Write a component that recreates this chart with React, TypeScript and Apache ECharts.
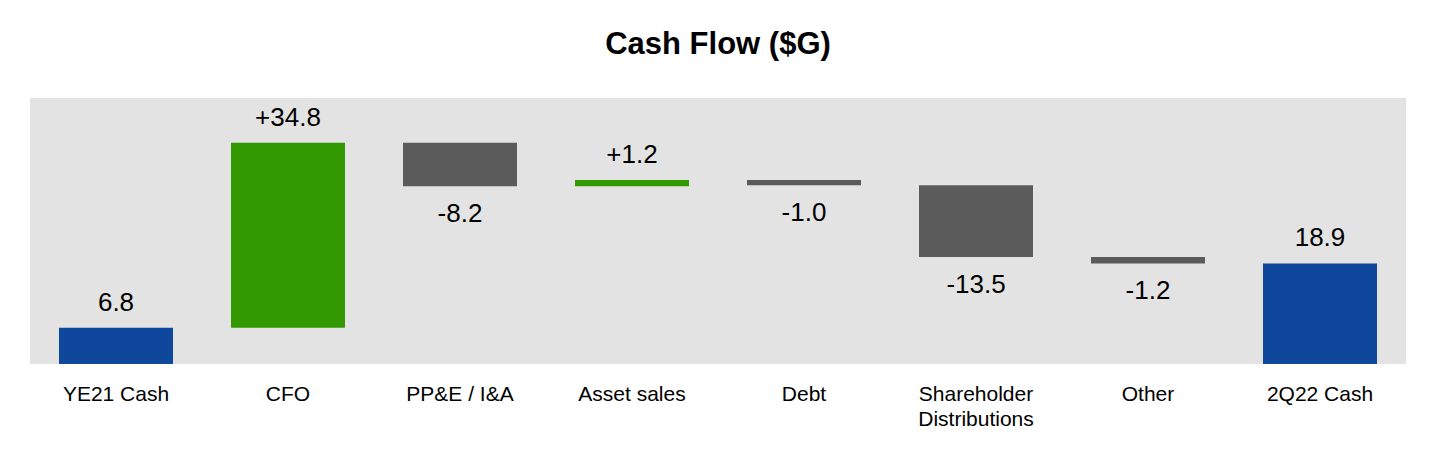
import * as echarts from 'echarts';
import React, { useEffect, useRef } from 'react';

const categories = [
  'YE21 Cash',
  'CFO',
  'PP&E / I&A',
  'Asset sales',
  'Debt',
  'Shareholder\nDistributions',
  'Other',
  '2Q22 Cash',
];
// first and last are totals, the rest are changes
const values = [6.8, 34.8, -8.2, 1.2, -1.0, -13.5, -1.2, 18.9];
const isTotal = [true, false, false, false, false, false, false, true];

const BLUE = '#0e479c';
const GREEN = '#339900';
const GREY = '#5b5b5b';

const CashFlowChart: React.FC = () => {
  const chartRef = useRef<HTMLDivElement>(null);

  useEffect(() => {
    if (!chartRef.current) return;
    const instance = echarts.init(chartRef.current, undefined, { renderer: 'svg' });

    // waterfall: invisible base + visible step
    let running = 0;
    const base: number[] = [];
    const step: any[] = [];
    values.forEach((v, i) => {
      let b = 0;
      if (isTotal[i]) {
        running = v;
      } else {
        b = v >= 0 ? running : running + v;
        running += v;
      }
      base.push(b);
      const color = isTotal[i] ? BLUE : v >= 0 ? GREEN : GREY;
      const text = isTotal[i] ? v.toFixed(1) : (v >= 0 ? '+' : '-') + Math.abs(v).toFixed(1);
      step.push({
        value: Math.abs(v),
        itemStyle: { color },
        label: {
          show: true,
          position: v >= 0 ? 'top' : 'bottom',
          distance: v >= 0 ? 13 : 14,
          formatter: text,
        },
      });
    });

    instance.setOption({
      animation: false,
      textStyle: { fontFamily: '"Liberation Sans", Arial, sans-serif' },
      title: {
        text: 'Cash Flow ($G)',
        left: 'center',
        top: 23,
        textStyle: {
          fontSize: 31,
          fontWeight: 'bold',
          color: '#000',
          fontFamily: '"Liberation Sans", Arial, sans-serif',
        },
      },
      grid: {
        left: 30,
        right: 30,
        top: 98,
        bottom: 96,
        show: true,
        backgroundColor: '#e3e3e3',
        borderWidth: 0,
      },
      xAxis: {
        type: 'category',
        data: categories,
        axisLine: { show: false },
        axisTick: { show: false },
        axisLabel: {
          fontSize: 21,
          color: '#000',
          margin: 17,
          lineHeight: 25,
          interval: 0,
        },
      },
      yAxis: {
        type: 'value',
        min: 0,
        max: 50,
        show: false,
        splitLine: { show: false },
      },
      series: [
        {
          type: 'bar',
          stack: 'wf',
          data: base,
          barWidth: 114,
          itemStyle: { color: 'transparent' },
          silent: true,
        },
        {
          type: 'bar',
          stack: 'wf',
          data: step,
          barWidth: 114,
          label: { fontSize: 26, color: '#000' },
        },
      ],
    });

    return () => {
      instance.dispose();
    };
  }, []);

  return (
    <div
      ref={chartRef}
      style={{ position: 'fixed', left: 0, top: 0, width: 1436, height: 460, background: '#fff' }}
    />
  );
};

export default function App() {
  return <CashFlowChart />;
}
